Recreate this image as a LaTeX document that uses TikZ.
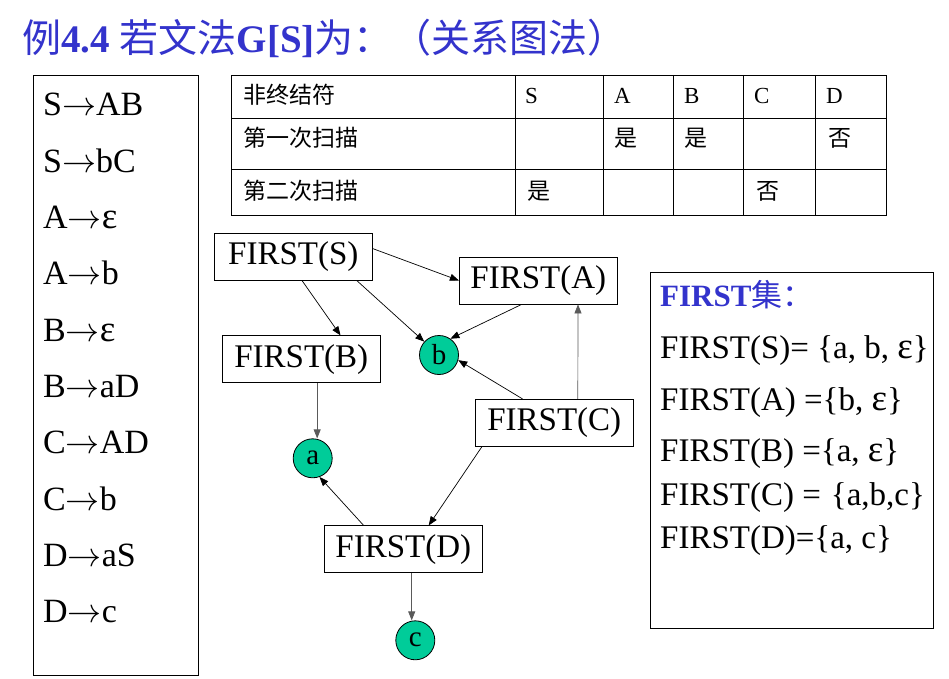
\RequirePackage{fix-cm}
\documentclass[tikz,border=0pt]{standalone}
\usepackage{fontspec}
\setmainfont{Liberation Serif}
\newfontfamily\cjk{Noto Sans CJK SC}
\usetikzlibrary{arrows.meta,calc}
\definecolor{titleblue}{RGB}{51,51,204}
\definecolor{nodegreen}{RGB}{0,204,153}
\definecolor{edgegray}{RGB}{90,90,90}
\newcommand{\eps}{{\fontsize{37}{38}\selectfont ε}}
\newcommand{\parr}{\ensuremath{\rightarrow}}
\begin{document}
\begin{tikzpicture}[x=1pt,y=-1pt,
  fbox/.style={draw=black,line width=0.8pt,minimum width=158pt,minimum height=47pt,inner sep=0pt,font=\fontsize{33}{38}\selectfont},
  term/.style={circle,draw=black,line width=0.8pt,fill=nodegreen,minimum size=39pt,inner sep=0pt,font=\fontsize{29}{32}\selectfont},
  edge/.style={line width=0.7pt,draw=black,-{Triangle[length=9pt,width=7pt]}},
  grayedge/.style={edge,draw=edgegray},
  prod/.style={anchor=base west,inner sep=0pt,font=\fontsize{34}{38}\selectfont},
  tcell/.style={anchor=base west,inner sep=0pt,font=\fontsize{23}{28}\selectfont},
  fline/.style={anchor=base west,inner sep=0pt,font=\fontsize{33}{38}\selectfont},
  frame/.style={draw=black,line width=1pt}
]
\useasboundingbox (0,0) rectangle (949,679);
\fill[white] (0,0) rectangle (949,679);

% title
\node[anchor=base west,inner sep=0pt,text=titleblue,font=\fontsize{39}{44}\selectfont] (title) at (22,53)
  {{\cjk 例}\textbf{4.4} {\cjk 若文法}\textbf{G[S]}{\cjk 为：（关系图法）}};

% left box with productions
\draw[frame] (33,75.7) rectangle (198.3,675);
\node[prod] (p0) at (43,116.0) {S\parr AB};
\node[prod] (p1) at (43,172.3) {S\parr bC};
\node[prod] (p2) at (43,228.6) {A\parr\eps};
\node[prod] (p3) at (43,284.9) {A\parr b};
\node[prod] (p4) at (43,341.2) {B\parr\eps};
\node[prod] (p5) at (43,397.5) {B\parr aD};
\node[prod] (p6) at (43,453.8) {C\parr AD};
\node[prod] (p7) at (43,510.1) {C\parr b};
\node[prod] (p8) at (43,566.4) {D\parr aS};
\node[prod] (p9) at (43,622.7) {D\parr c};

% table
\draw[line width=0.8pt] (231,75) rectangle (886,215);
\draw[line width=0.8pt] (231,118) -- (886,118);
\draw[line width=0.8pt] (231,169) -- (886,169);
\foreach \x in {515,603,673,743,815}{\draw[line width=0.8pt] (\x,75) -- (\x,215);}
\node[tcell] (h0) at (243,104) {\cjk 非终结符};
\node[tcell] (h1) at (525,104) {S};
\node[tcell] (h2) at (614,104) {A};
\node[tcell] (h3) at (684,104) {B};
\node[tcell] (h4) at (754,104) {C};
\node[tcell] (h5) at (826,104) {D};
\node[tcell] (r10) at (243,147) {\cjk 第一次扫描};
\node[tcell] (r12) at (614,147) {\cjk 是};
\node[tcell] (r13) at (684,147) {\cjk 是};
\node[tcell] (r15) at (828,147) {\cjk 否};
\node[tcell] (r20) at (243,199) {\cjk 第二次扫描};
\node[tcell] (r21) at (527,199) {\cjk 是};
\node[tcell] (r24) at (756,199) {\cjk 否};

% graph nodes
\node[fbox] (S) at (293.3,256.7) {FIRST(S)};
\node[fbox] (A) at (538.3,280.5) {FIRST(A)};
\node[fbox] (B) at (301.3,359.3) {FIRST(B)};
\node[fbox] (C) at (554.3,422.8) {FIRST(C)};
\node[fbox] (D) at (403.3,549.3) {FIRST(D)};
\node[term] (b) at (439,355) {b};
\node[term] (a) at (312.7,458.3) {a};
\node[term] (c) at (415.3,640.3) {c};

% edges
\draw[edge] ($(S.north east)!0.33!(S.south east)$) -- (A.west);
\draw[edge] ($(S.south west)!0.555!(S.south east)$) -- ($(B.north west)!0.747!(B.north east)$);
\draw[edge] ($(S.south west)!0.9!(S.south east)$) -- (b);
\draw[edge] ($(A.south west)!0.395!(A.south east)$) -- (b.55);
\draw[edge] ($(C.north west)!0.30!(C.north east)$) -- (b.-15);
\draw[grayedge] ($(C.north west)!0.648!(C.north east)$) -- ($(A.south west)!0.75!(A.south east)$);
\draw[edge] ($(C.south west)!0.044!(C.south east)$) -- ($(D.north west)!0.66!(D.north east)$);
\draw[edge] ($(D.north west)!0.25!(D.north east)$) -- (a.-70);
\draw[grayedge] ($(B.south west)!0.6!(B.south east)$) coordinate (bs) -- (bs |- a.north);
\draw[grayedge] ($(D.south west)!0.553!(D.south east)$) coordinate (ds) -- (ds |- c.north);

% right box
\draw[frame] (650,272.7) rectangle (933,628.3);
\node[anchor=base west,inner sep=0pt,text=titleblue,font=\fontsize{31}{34}\selectfont] (fh) at (660,306) {\textbf{FIRST}{\cjk 集：}};
\node[fline] (f1) at (660,358) {FIRST(S)= \{a, b, \eps\}};
\node[fline] (f2) at (660,410) {FIRST(A) =\{b, \eps\}};
\node[fline] (f3) at (660,461.7) {FIRST(B) =\{a, \eps\}};
\node[fline] (f4) at (660,505) {FIRST(C) =\hspace{10pt}\{a,b,c\}};
\node[fline] (f5) at (660,548) {FIRST(D)=\{a, c\}};
\end{tikzpicture}
\end{document}
